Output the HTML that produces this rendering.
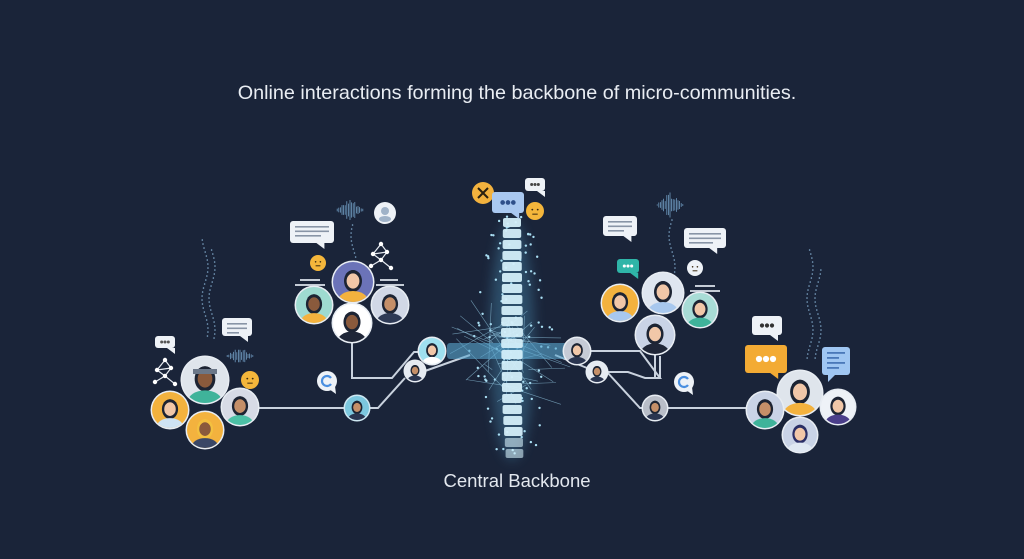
<!DOCTYPE html>
<html><head><meta charset="utf-8"><style>
html,body{margin:0;padding:0;background:#1a2439;width:1024px;height:559px;overflow:hidden}
svg{display:block}
</style></head><body>
<svg id="s" width="1024" height="559" viewBox="0 0 1024 559" xmlns="http://www.w3.org/2000/svg">
<defs><filter id="bl" x="-50%" y="-50%" width="200%" height="200%"><feGaussianBlur stdDeviation="6"/></filter></defs>
<rect width="1024" height="559" fill="#1a2439"/>
<text x="517" y="99" text-anchor="middle" font-family="Liberation Sans, sans-serif" font-size="19.8" fill="#e9edf3">Online interactions forming the backbone of micro-communities.</text>
<text x="517" y="487" text-anchor="middle" font-family="Liberation Sans, sans-serif" font-size="18.5" fill="#e3e8ef">Central Backbone</text>
<ellipse cx="512" cy="340" rx="22" ry="120" fill="#4f9cc4" opacity="0.35" filter="url(#bl)"/>
<g id="lines" fill="none" stroke="#c9d2de" stroke-width="2">
<path d="M258 408 H345"/>
<path d="M369 408 H378 L405 378"/>
<path d="M425 371 L470 355"/>
<path d="M352 341 V378 H392 L414 352 H420"/>
<path d="M577 351 H640 L660 378 H655 V355"/>
<path d="M555 355 L587 368"/>
<path d="M607 372 L640 408 H643"/>
<path d="M667 408 H750"/>
<path d="M607 372 H628 L645 378 H660 V356"/>
</g>
<g id="g"></g>
</svg>
<script>
var NS="http://www.w3.org/2000/svg",g=document.getElementById('g');
function el(t,a,p){var e=document.createElementNS(NS,t);for(var k in a)e.setAttribute(k,a[k]);(p||g).appendChild(e);return e}
var rnd=(function(){var s=7;return function(){s=(s*9301+49297)%233280;return s/233280}})();
for(var i=0;i<110;i++){var y=215+rnd()*245,x=512+(rnd()-0.5)*90*(1-Math.abs(y-350)/220);
el('circle',{cx:x,cy:y,r:1.2,fill:'#a9def3'})}
for(var i=0;i<40;i++){var x1=450+rnd()*125,y1=300+rnd()*110,x2=485+rnd()*55,y2=320+rnd()*70;
el('line',{x1:x1,y1:y1,x2:x2,y2:y2,stroke:'#8fc3dd','stroke-width':0.6,opacity:0.7})}
el('rect',{x:447,y:343,width:130,height:16,fill:'#5aa7cf',opacity:0.6,rx:3});
for(var y=218;y<460;y+=11){var w=22-Math.abs(y-330)/28; if(w<11)w=11;
el('rect',{x:512-w/2+(y>400?(y-400)/20:0),y:y,width:w,height:9,rx:2,fill:'#d3eef9',opacity:y>430?0.6:0.95})}
function wave(cx,cy,h){for(var i=-8;i<=8;i++){var hh=h*(1-Math.abs(i)/9)*(0.4+rnd()*0.6);
el('line',{x1:cx+i*1.6,y1:cy-hh,x2:cx+i*1.6,y2:cy+hh,stroke:'#6f9bc0','stroke-width':0.8})}}
wave(350,210,13);wave(240,356,11);wave(670,205,13);
function dots(x,y1,y2){for(var y=y1;y<y2;y+=4)el('circle',{cx:x+Math.sin(y/10)*3,cy:y,r:0.8,fill:'#7fa7c8'})}
dots(205,240,340);dots(212,250,340);dots(354,225,260);dots(672,220,300);dots(810,250,360);dots(818,270,360);
function av(x,y,r,bg,skin,hair,shirt,ring){
el('circle',{cx:x,cy:y,r:r+1.5,fill:ring||'#e8edf3'});
el('circle',{cx:x,cy:y,r:r,fill:bg});
var cp=el('clipPath',{id:'c'+x+'_'+y});el('circle',{cx:x,cy:y,r:r},cp);
var gg=el('g',{'clip-path':'url(#c'+x+'_'+y+')'});
el('ellipse',{cx:x,cy:y-r*0.05,rx:r*0.45,ry:r*0.55,fill:hair},gg);
el('ellipse',{cx:x,cy:y+r*0.95,rx:r*0.75,ry:r*0.5,fill:shirt},gg);
el('ellipse',{cx:x,cy:y-r*0.05,rx:r*0.32,ry:r*0.38,fill:skin},gg);
el('path',{d:'M'+(x-r*0.36)+' '+(y-r*0.15)+' Q'+x+' '+(y-r*0.75)+' '+(x+r*0.36)+' '+(y-r*0.15)+' L'+(x+r*0.36)+' '+(y-r*0.4)+' Q'+x+' '+(y-r*0.8)+' '+(x-r*0.36)+' '+(y-r*0.4)+'Z',fill:hair},gg);
}
function emo(x,y,r,c){el('circle',{cx:x,cy:y,r:r,fill:c||'#f4b63b'});el('circle',{cx:x-r*0.3,cy:y-r*0.15,r:r*0.1,fill:'#3a2a10'});el('circle',{cx:x+r*0.3,cy:y-r*0.15,r:r*0.1,fill:'#3a2a10'});el('line',{x1:x-r*0.3,y1:y+r*0.35,x2:x+r*0.3,y2:y+r*0.35,stroke:'#3a2a10','stroke-width':1})}
function bub(x,y,w,h,c,lines,dotc){el('rect',{x:x,y:y,width:w,height:h,rx:3,fill:c});
el('path',{d:'M'+(x+w*0.6)+' '+(y+h)+' l8 6 l0 -6z',fill:c});
if(lines){for(var i=0;i<3;i++)el('rect',{x:x+5,y:y+5+i*4.5,width:w-10-(i==2?8:0),height:1.6,fill:'#8894a6'})}
if(dotc){for(var i=-1;i<=1;i++)el('circle',{cx:x+w/2+i*w/6,cy:y+h/2,r:Math.max(1.5,h/9),fill:dotc})}}
function net(x,y){var p=[[0,-12],[-8,-2],[6,-4],[0,4],[-10,10],[10,12]];
[[0,1],[0,2],[1,3],[2,3],[3,4],[3,5],[1,2]].forEach(function(e){el('line',{x1:x+p[e[0]][0],y1:y+p[e[0]][1],x2:x+p[e[1]][0],y2:y+p[e[1]][1],stroke:'#e6ebf2','stroke-width':1.2})});
p.forEach(function(q){el('circle',{cx:x+q[0],cy:y+q[1],r:2.2,fill:'#fff'})})}
function cb(x,y){el('circle',{cx:x,cy:y,r:10,fill:'#eef2f7'});el('path',{d:'M'+(x+2)+' '+(y+8)+' l7 5 l-1 -8z',fill:'#eef2f7'});el('path',{d:'M'+(x+4)+' '+(y-3)+' A5 5 0 1 0 '+(x+4)+' '+(y+3),stroke:'#4a8fe0','stroke-width':2.2,fill:'none'})}
var SK='#f1c7a8',SD='#8a5a3c',SM='#c58f68',H='#1d2433';
bub(222,318,30,18,'#eef2f7',true);bub(155,336,20,12,'#eef2f7',0,'#555');net(165,372);
av(205,380,23,'#dfe5ec',SD,H,'#3fb39a');
av(170,410,18,'#f3b23e',SK,H,'#cfe3f3');
av(205,430,18,'#f3b23e',SD,'#f3c040','#3a4766');
av(240,407,18,'#d7dbe6',SM,H,'#4cc0a5');
emo(250,380,9);
el('rect',{x:193,y:369,width:24,height:5,fill:'#6b7788'});
bub(290,221,44,22,'#eef2f7',true);
el('circle',{cx:385,cy:213,r:11,fill:'#eef2f7'});el('circle',{cx:385,cy:211,r:4,fill:'#9fb2c8'});el('ellipse',{cx:385,cy:219,rx:6,ry:3,fill:'#9fb2c8'});
net(381,256);emo(318,263,8);
el('rect',{x:300,y:279,width:20,height:2,fill:'#c5ccd6'});el('rect',{x:295,y:284,width:30,height:2,fill:'#c5ccd6'});
el('rect',{x:380,y:279,width:18,height:2,fill:'#c5ccd6'});el('rect',{x:376,y:284,width:28,height:2,fill:'#c5ccd6'});
av(314,305,18,'#9edad0',SD,H,'#f3b23e');
av(390,305,18,'#d1d8e6',SM,H,'#2e3a55');
av(353,282,20,'#6b73b8',SK,H,'#f3b23e');
av(352,323,19,'#ffffff',SD,H,'#1f2637');
av(357,408,12,'#7cc7de',SM,H,'#2a3550','#cfe8f2');
av(415,371,10,'#e6ebf2',SM,H,'#2a3550');
av(432,351,13,'#9fe0ef',SK,H,'#ffffff');
av(577,351,13,'#c6cbd6',SK,H,'#2a3550');
av(597,372,10,'#e6ebf2',SM,H,'#2a3550');
av(655,408,12,'#b9bec8',SM,H,'#2a3550');
cb(327,381);cb(684,382);
el('circle',{cx:483,cy:193,r:11,fill:'#f3b23e'});
el('path',{d:'M478 188 l10 10 M488 188 l-10 10',stroke:'#2a2110','stroke-width':2});
bub(492,192,32,21,'#a9c8f0',0,'#2e4f8a');
bub(525,178,20,13,'#eef2f7',0,'#444');
emo(535,211,9);
bub(603,216,34,20,'#eef2f7',true);bub(684,228,42,20,'#eef2f7',true);
bub(617,259,22,14,'#2fb5a8',0,'#ffffff');
emo(695,268,8,'#eef2f7');
el('rect',{x:695,y:285,width:20,height:2,fill:'#c5ccd6'});el('rect',{x:690,y:290,width:30,height:2,fill:'#c5ccd6'});
av(620,303,18,'#f3b23e',SK,H,'#a8c8ee');
av(700,310,17,'#a8dcd6',SK,H,'#3fb39a');
av(663,293,20,'#dfe6f0',SK,H,'#a8c8ee');
av(655,335,19,'#c9d3e6',SK,H,'#1f2637');
bub(752,316,30,19,'#eef2f7',0,'#333');
bub(745,345,42,28,'#f3ab34',0,'#ffffff');
el('rect',{x:822,y:347,width:28,height:28,rx:3,fill:'#9fc6f2'});
el('path',{d:'M828 375 l0 7 l7 -7z',fill:'#9fc6f2'});
for(var i=0;i<4;i++)el('rect',{x:827,y:352+i*5,width:18-(i%2)*6,height:1.8,fill:'#4a78b8'});
av(800,393,22,'#dfe5ec',SK,H,'#f3b23e');
av(765,410,18,'#c9d3e6',SM,H,'#3fb39a');
av(838,407,17,'#eef2f7',SK,H,'#4a3e8a');
av(800,435,17,'#c9d3e6',SK,'#2a2f66','#dfe8f2');
</script>
</body></html>
